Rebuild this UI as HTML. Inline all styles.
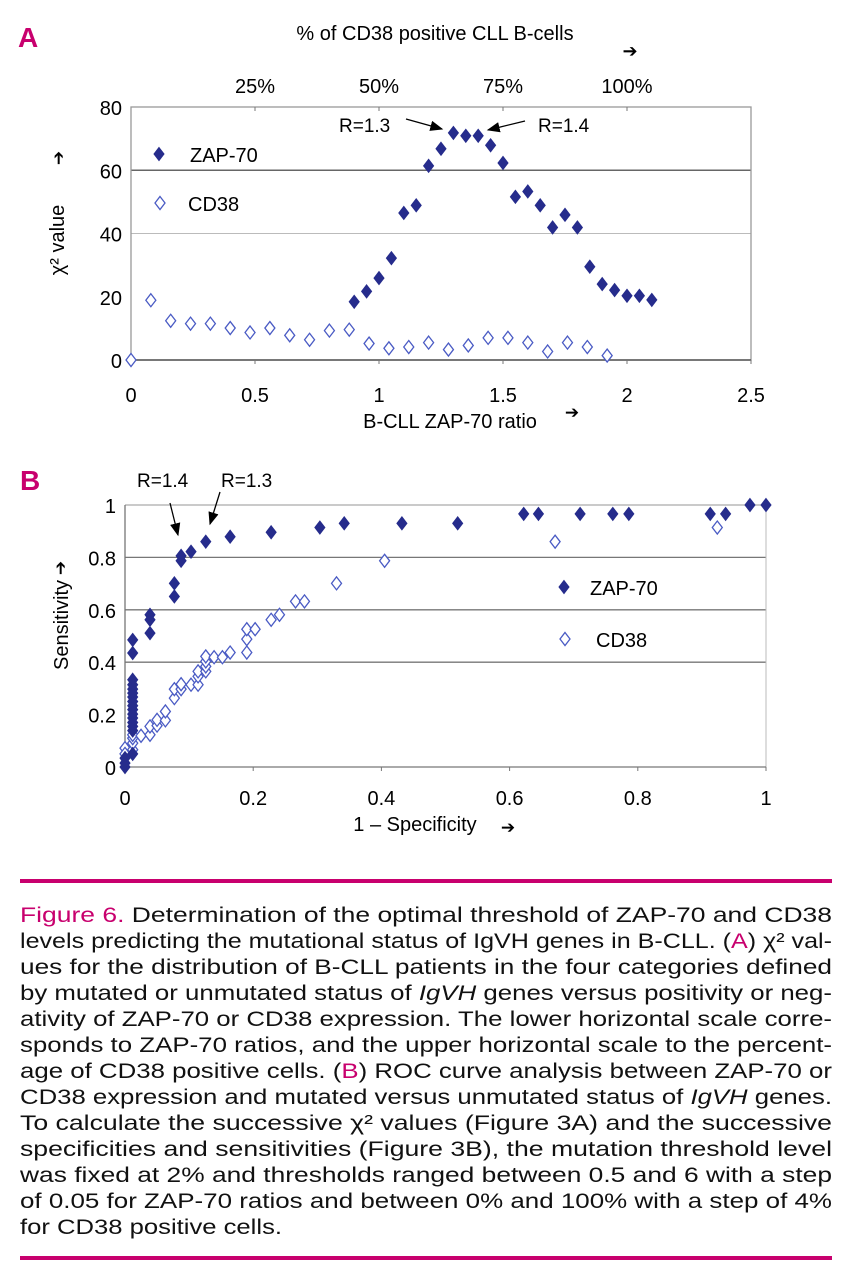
<!DOCTYPE html>
<html><head><meta charset="utf-8"><style>
html,body{margin:0;padding:0;background:#fff;}
svg{display:block;font-family:"Liberation Sans",sans-serif;}
</style></head><body>
<svg id="fig" width="846" height="1280" viewBox="0 0 846 1280">
<defs><marker id="ah" markerWidth="10" markerHeight="8" refX="9" refY="4" orient="auto"><path d="M0,0 L10,4 L0,8 z" fill="#000"/></marker></defs>
<!-- Panel A -->
<text x="18" y="47" font-size="28" font-weight="bold" fill="#c8006e">A</text>
<g id="chartA"></g>
<text x="435" y="40" font-size="20" text-anchor="middle">% of CD38 positive CLL B-cells</text>
<text x="630" y="57" font-size="18" text-anchor="middle">➔</text>
<text x="450" y="428" font-size="20" text-anchor="middle">B-CLL ZAP-70 ratio</text>
<text x="572" y="418" font-size="17" text-anchor="middle">➔</text>
<text transform="translate(64,240) rotate(-90)" font-size="20" text-anchor="middle">χ² value</text>
<text transform="translate(64,158) rotate(-90)" font-size="17" text-anchor="middle">➔</text>
<text x="339" y="132" font-size="19">R=1.3</text>
<line x1="406" y1="119" x2="442" y2="129" stroke="#000" stroke-width="1.3" marker-end="url(#ah)"/>
<text x="538" y="132" font-size="19">R=1.4</text>
<line x1="525" y1="121" x2="488" y2="130" stroke="#000" stroke-width="1.3" marker-end="url(#ah)"/>
<!-- Panel B -->
<text x="20" y="490" font-size="28" font-weight="bold" fill="#c8006e">B</text>
<g id="chartB"></g>
<text x="137" y="487" font-size="19">R=1.4</text>
<line x1="170" y1="503" x2="178" y2="535" stroke="#000" stroke-width="1.3" marker-end="url(#ah)"/>
<text x="221" y="487" font-size="19">R=1.3</text>
<line x1="220" y1="492" x2="210" y2="524" stroke="#000" stroke-width="1.3" marker-end="url(#ah)"/>
<text x="415" y="831" font-size="20" text-anchor="middle">1 – Specificity</text>
<text x="508" y="833" font-size="17" text-anchor="middle">➔</text>
<text transform="translate(68,625) rotate(-90)" font-size="20" text-anchor="middle">Sensitivity</text>
<text transform="translate(66,568) rotate(-90)" font-size="17" text-anchor="middle">➔</text>
<!-- Caption -->
<rect x="20" y="879" width="812" height="4" fill="#c8006e"/>
<rect x="20" y="1256" width="812" height="4" fill="#c8006e"/>
<g font-size="21" fill="#111">
<text x="20" y="922" textLength="812" lengthAdjust="spacingAndGlyphs"><tspan fill="#c8006e">Figure 6.</tspan> Determination of the optimal threshold of ZAP-70 and CD38</text>
<text x="20" y="948" textLength="812" lengthAdjust="spacingAndGlyphs">levels predicting the mutational status of IgVH genes in B-CLL. (<tspan fill="#c8006e">A</tspan>) χ² val-</text>
<text x="20" y="974" textLength="812" lengthAdjust="spacingAndGlyphs">ues for the distribution of B-CLL patients in the four categories defined</text>
<text x="20" y="1000" textLength="812" lengthAdjust="spacingAndGlyphs">by mutated or unmutated status of <tspan font-style="italic">IgVH</tspan> genes versus positivity or neg-</text>
<text x="20" y="1026" textLength="812" lengthAdjust="spacingAndGlyphs">ativity of ZAP-70 or CD38 expression. The lower horizontal scale corre-</text>
<text x="20" y="1052" textLength="812" lengthAdjust="spacingAndGlyphs">sponds to ZAP-70 ratios, and the upper horizontal scale to the percent-</text>
<text x="20" y="1078" textLength="812" lengthAdjust="spacingAndGlyphs">age of CD38 positive cells. (<tspan fill="#c8006e">B</tspan>) ROC curve analysis between ZAP-70 or</text>
<text x="20" y="1104" textLength="812" lengthAdjust="spacingAndGlyphs">CD38 expression and mutated versus unmutated status of <tspan font-style="italic">IgVH</tspan> genes.</text>
<text x="20" y="1130" textLength="812" lengthAdjust="spacingAndGlyphs">To calculate the successive χ² values (Figure 3A) and the successive</text>
<text x="20" y="1156" textLength="812" lengthAdjust="spacingAndGlyphs">specificities and sensitivities (Figure 3B), the mutation threshold level</text>
<text x="20" y="1182" textLength="812" lengthAdjust="spacingAndGlyphs">was fixed at 2% and thresholds ranged between 0.5 and 6 with a step</text>
<text x="20" y="1208" textLength="812" lengthAdjust="spacingAndGlyphs">of 0.05 for ZAP-70 ratios and between 0% and 100% with a step of 4%</text>
<text x="20" y="1234" textLength="262" lengthAdjust="spacingAndGlyphs">for CD38 positive cells.</text>
</g>
</svg>
<script>
// ---- Chart A data ----
const aZapX = [0.9,0.95,1.0,1.05,1.1,1.15,1.2,1.25,1.3,1.35,1.4,1.45,1.5,1.55,1.6,1.65,1.7,1.75,1.8,1.85,1.9,1.95,2.0,2.05,2.1];
const aZapY = [18.4,21.7,25.9,32.2,46.5,48.9,61.4,66.8,71.8,70.9,70.9,67.9,62.3,51.6,53.3,48.9,41.9,45.9,41.9,29.5,24.0,22.1,20.3,20.3,19.0];
const aCdPct = [0,4,8,12,16,20,24,28,32,36,40,44,48,52,56,60,64,68,72,76,80,84,88,92,96];
const aCdY = [0,18.9,12.4,11.5,11.5,10.1,8.7,10.1,7.8,6.4,9.3,9.6,5.2,3.7,4.1,5.5,3.3,4.6,7.0,7.0,5.5,2.7,5.5,4.1,1.4];
const aXTicks = ["0","0.5","1","1.5","2","2.5"];
const aYTicks = ["0","20","40","60","80"];
const aTopTicks = ["25%","50%","75%","100%"];
// ---- Chart B data ----
const bZapX = [0,0,0,0.012,0.012,0.012,0.012,0.012,0.012,0.012,0.012,0.012,0.012,0.012,0.012,0.012,0.012,0.012,0.012,0.039,0.039,0.039,0.077,0.077,0.0875,0.0875,0.103,0.126,0.164,0.228,0.304,0.342,0.432,0.519,0.622,0.645,0.710,0.761,0.786,0.913,0.937,0.975,1.0];
const bZapY = [0,0.015,0.034,0.05,0.139,0.155,0.170,0.187,0.202,0.219,0.234,0.250,0.267,0.282,0.297,0.314,0.333,0.435,0.485,0.511,0.562,0.581,0.651,0.701,0.787,0.806,0.822,0.860,0.879,0.896,0.914,0.930,0.930,0.930,0.966,0.966,0.966,0.966,0.966,0.966,0.966,1.0,1.0];
const bCdX = [0,0,0.012,0.012,0.012,0.012,0.025,0.039,0.039,0.05,0.05,0.063,0.063,0.077,0.077,0.0875,0.0875,0.103,0.114,0.114,0.114,0.126,0.126,0.126,0.126,0.139,0.152,0.164,0.190,0.190,0.190,0.203,0.228,0.241,0.266,0.280,0.330,0.405,0.671,0.924];
const bCdY = [0.072,0.05,0.066,0.091,0.11,0.123,0.119,0.123,0.155,0.158,0.18,0.178,0.212,0.263,0.297,0.297,0.316,0.314,0.314,0.346,0.365,0.365,0.384,0.403,0.422,0.419,0.419,0.437,0.437,0.488,0.526,0.526,0.562,0.581,0.632,0.632,0.701,0.787,0.860,0.914];
const bXTicks = ["0","0.2","0.4","0.6","0.8","1"];
const bYTicks = ["0","0.2","0.4","0.6","0.8","1"];

const NS = "http://www.w3.org/2000/svg";
const ZAP = "#262c8c", CD = "#4a5bc4";
function mk(parent, tag, attrs){ const e=document.createElementNS(NS,tag); for(const k in attrs) e.setAttribute(k,attrs[k]); parent.appendChild(e); return e; }
function diamond(parent, cx, cy, filled, name){
  const p = mk(parent,"path",{d:`M${cx},${cy-6.5} L${cx+5},${cy} L${cx},${cy+6.5} L${cx-5},${cy} Z`,
    fill: filled?ZAP:"#fff", stroke: filled?ZAP:CD, "stroke-width": filled?1:1.3});
  
  
  return p;
}
function label(parent, x, y, txt, anchor, size, name){
  const t = mk(parent,"text",{x:x,y:y,"text-anchor":anchor,"font-size":size});
  t.textContent = txt;
  
  
  return t;
}

// ---- Chart A ----
(function(){
  const g = document.getElementById("chartA");
  const L=131, R=751, T=107, B=360;
  const xs = v => L + v/2.5*(R-L);
  const xp = p => L + (p/25)*124; // percent axis
  const ys = v => B - v/80*(B-T);
  const g40 = mk(g,"line",{x1:L,x2:R,y1:ys(40),y2:ys(40),stroke:"#bbb","stroke-width":1});
   
  const g60 = mk(g,"line",{x1:L,x2:R,y1:ys(60),y2:ys(60),stroke:"#666","stroke-width":1.5});
   
  const frame = mk(g,"rect",{x:L,y:T,width:R-L,height:B-T,fill:"none",stroke:"#999","stroke-width":1.3});
   
  const ax = mk(g,"line",{x1:L,x2:R,y1:B,y2:B,stroke:"#555","stroke-width":1.5});
   
  aXTicks.forEach((t,i)=>{ const v=parseFloat(t); const x=xs(v);
    mk(g,"line",{x1:x,x2:x,y1:B,y2:B+4,stroke:"#777"});
    label(g,x,B+42,t,"middle",20,"x-tick-a"); });
  aYTicks.forEach(t=>{ const v=parseFloat(t); label(g,L-9,ys(v)+8,t,"end",20,"y-tick-a"); });
  aTopTicks.forEach(t=>{ const x=xp(parseFloat(t));
    mk(g,"line",{x1:x,x2:x,y1:T,y2:T+4,stroke:"#777"});
    label(g,x,T-14,t,"middle",20,"top-tick-a"); });
  aZapX.forEach((v,i)=>diamond(g,xs(v),ys(aZapY[i]),true,"zap70-point-a"));
  aCdPct.forEach((p,i)=>diamond(g,xp(p),ys(aCdY[i]),false,"cd38-point-a"));
  diamond(g,159,154,true,"legend-zap70-marker-a");
  label(g,190,162,"ZAP-70","start",20,"legend-zap70-label-a");
  diamond(g,160,203,false,"legend-cd38-marker-a");
  label(g,188,211,"CD38","start",20,"legend-cd38-label-a");
})();

// ---- Chart B ----
(function(){
  const g = document.getElementById("chartB");
  const L=125, R=766, T=505, B=767;
  const xs = v => L + v*(R-L);
  const ys = v => B - v*(B-T);
  [0.4,0.6,0.8,1].forEach(v=>{ const l=mk(g,"line",{x1:L,x2:R,y1:ys(v),y2:ys(v),stroke:v==1?"#aaa":"#777","stroke-width":1.3});
      });
  const rb = mk(g,"line",{x1:R,x2:R,y1:T,y2:B,stroke:"#bbb","stroke-width":1});
   
  const ay = mk(g,"line",{x1:L,x2:L,y1:T,y2:B,stroke:"#777","stroke-width":1.3});
   
  const ax = mk(g,"line",{x1:L,x2:R,y1:B,y2:B,stroke:"#777","stroke-width":1.3});
   
  bXTicks.forEach(t=>{ const x=xs(parseFloat(t));
    mk(g,"line",{x1:x,x2:x,y1:B,y2:B+4,stroke:"#777"});
    label(g,x,B+38,t,"middle",20,"x-tick-b"); });
  bYTicks.forEach(t=>{ const y=ys(parseFloat(t)); label(g,L-9,y+8,t,"end",20,"y-tick-b"); });
  bCdX.forEach((v,i)=>diamond(g,xs(v),ys(bCdY[i]),false,"cd38-point-b"));
  bZapX.forEach((v,i)=>diamond(g,xs(v),ys(bZapY[i]),true,"zap70-point-b"));
  diamond(g,564,587,true,"legend-zap70-marker-b");
  label(g,590,595,"ZAP-70","start",20,"legend-zap70-label-b");
  diamond(g,565,639,false,"legend-cd38-marker-b");
  label(g,596,647,"CD38","start",20,"legend-cd38-label-b");
})();
</script>
</body></html>
